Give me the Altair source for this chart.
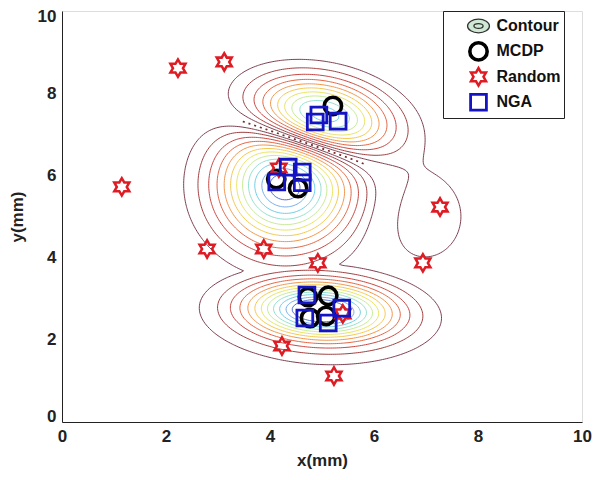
import numpy as np
import pandas as pd
import altair as alt

# ---------------- marker data (mm) ----------------
mcdp_x = [5.21, 4.12, 4.54, 4.73, 5.12, 4.77, 5.08]
mcdp_y = [7.69, 5.91, 5.69, 3.04, 3.07, 2.53, 2.58]
random_x = [2.23, 3.12, 1.15, 2.79, 3.88, 4.92, 7.27, 6.94, 4.23, 5.23, 5.40, 4.17]
random_y = [8.61, 8.76, 5.72, 4.21, 4.21, 3.87, 5.23, 3.87, 1.85, 1.12, 2.63, 6.18]
nga_x = [4.94, 4.87, 5.31, 4.35, 4.62, 4.13, 4.62, 4.71, 4.67, 5.12, 5.38]
nga_y = [7.47, 7.30, 7.32, 6.20, 6.08, 5.84, 5.82, 3.09, 2.53, 2.41, 2.77]

# ---------------- field sources for the contour ----------------
src_cx = [4.96, 6.95, 4.30, 4.96, 5.00]
src_cy = [7.40, 5.00, 5.78, 2.72, 2.35]
src_sx = [0.88, 0.65, 0.85, 0.92, 1.55]
src_sy = [0.60, 0.90, 1.00, 0.46, 0.85]
src_ang = [-18, 0, 0, -4, -4]
src_amp = [1.0, 0.13, 1.0, 1.0, 0.10]
src_grp = ["pos", "pos", "neg", "add", "add"]

levels = [0.07, 0.14, 0.22, 0.30, 0.38, 0.46, 0.54, 0.62, 0.70, 0.78, 0.86, 0.93]
level_colors = ['#6e2a3c', '#962a2a', '#c2322c', '#e0542e', '#ee8a38', '#f2c23c',
                '#e6e050', '#bfe88a', '#86dcc8', '#60c8e2', '#6aa4ea', '#3f5ed0']

series = ["Contour", "MCDP", "Random", "NGA"]

# ---------------- field ----------------
xs = np.linspace(0, 10, 251)
ys = np.linspace(0, 10, 251)
X, Y = np.meshgrid(xs, ys)
parts = {"pos": np.zeros_like(X), "neg": np.zeros_like(X), "add": np.zeros_like(X)}
for cx, cy, sx, sy, ang, amp, g in zip(src_cx, src_cy, src_sx, src_sy, src_ang, src_amp, src_grp):
    t = np.deg2rad(ang)
    u = (X - cx) * np.cos(t) + (Y - cy) * np.sin(t)
    v = -(X - cx) * np.sin(t) + (Y - cy) * np.cos(t)
    parts[g] = parts[g] + amp * np.exp(-0.5 * ((u / sx) ** 2 + (v / sy) ** 2))
Z = np.maximum(np.abs(parts["pos"] - parts["neg"]), parts["add"])
Zd = parts["pos"] - parts["neg"]
Zd = np.where(parts["pos"] + parts["neg"] > 0.36, Zd, np.nan)


def contour_paths(Z, level):
    b = Z > level
    v0 = Z[:-1, :-1]; v1 = Z[:-1, 1:]; v2 = Z[1:, 1:]; v3 = Z[1:, :-1]
    case = b[:-1, :-1] * 1 + b[:-1, 1:] * 2 + b[1:, 1:] * 4 + b[1:, :-1] * 8
    valid = ~np.isnan(v0 + v1 + v2 + v3)
    cells = np.argwhere((case > 0) & (case < 15) & valid)
    table = {1: [(3, 0)], 2: [(0, 1)], 3: [(3, 1)], 4: [(1, 2)], 6: [(0, 2)], 7: [(3, 2)],
             8: [(2, 3)], 9: [(0, 2)], 11: [(1, 2)], 12: [(1, 3)], 13: [(0, 1)], 14: [(0, 3)]}
    adj = {}
    for i, j in cells:
        c = int(case[i, j])
        es = [('h', i, j), ('v', i, j + 1), ('h', i + 1, j), ('v', i, j)]
        if c in (5, 10):
            center = (v0[i, j] + v1[i, j] + v2[i, j] + v3[i, j]) / 4 > level
            if (c == 5) == center:
                pairs = [(0, 1), (2, 3)]
            else:
                pairs = [(3, 0), (1, 2)]
        else:
            pairs = table[c]
        for a, bb in pairs:
            adj.setdefault(es[a], []).append(es[bb])
            adj.setdefault(es[bb], []).append(es[a])

    def edge_pt(e):
        kind, i, j = e
        if kind == 'h':
            a, c = Z[i, j], Z[i, j + 1]
            t = (level - a) / (c - a)
            return xs[j] + t * (xs[j + 1] - xs[j]), ys[i]
        a, c = Z[i, j], Z[i + 1, j]
        t = (level - a) / (c - a)
        return xs[j], ys[i] + t * (ys[i + 1] - ys[i])

    visited = set()
    paths = []
    starts = [n for n in adj if len(adj[n]) == 1] + list(adj.keys())
    for s in starts:
        if s in visited:
            continue
        path = [s]; visited.add(s); cur = s
        while True:
            nxt = [n for n in adj[cur] if n not in visited]
            if not nxt:
                break
            cur = nxt[0]; visited.add(cur); path.append(cur)
        if len(path) > 2 and s in adj[cur]:
            path.append(s)
        paths.append([edge_pt(e) for e in path])
    return paths


rows = []
pid = 0
for lv, col in zip(levels, level_colors):
    for p in contour_paths(Z, lv):
        for k, (px, py) in enumerate(p):
            rows.append((pid, k, px, py, col))
        pid += 1
df_lines = pd.DataFrame(rows, columns=["pid", "k", "x", "y", "col"])

rows = []
for p in contour_paths(Zd, 0.0):
    for k, (px, py) in enumerate(p):
        rows.append((pid, k, px, py))
    pid += 1
df_zero = pd.DataFrame(rows, columns=["pid", "k", "x", "y"])

df_pts = pd.concat([
    pd.DataFrame({"series": "MCDP", "x": mcdp_x, "y": mcdp_y}),
    pd.DataFrame({"series": "Random", "x": random_x, "y": random_y}),
    pd.DataFrame({"series": "NGA", "x": nga_x, "y": nga_y}),
], ignore_index=True)

# ---------------- symbols ----------------
def star_ring(scale, reverse=False):
    pts = []
    for k in range(12):
        a = np.deg2rad(-90 + 30 * k)
        r = (1.0 if k % 2 == 0 else 0.577) * scale
        pts.append(f"{r*np.cos(a):.3f},{r*np.sin(a):.3f}")
    if reverse:
        pts = pts[::-1]
    return "M" + " L".join(pts) + " Z"

star_path = star_ring(1.0) + " " + star_ring(0.55, reverse=True)
ell_path = ("M -1,0 A 1,0.62 0 1 0 1,0 A 1,0.62 0 1 0 -1,0 Z "
            "M -0.42,0 A 0.42,0.22 0 1 0 0.42,0 A 0.42,0.22 0 1 0 -0.42,0 Z")

FONT = "Liberation Sans"
xscale = alt.Scale(domain=[0, 10], nice=False, zero=False)
yscale = alt.Scale(domain=[0, 10], nice=False, zero=False)
common = dict(values=[0, 2, 4, 6, 8, 10], grid=False, ticks=False,
              labelFont=FONT, labelFontSize=17, labelFontWeight="bold", labelColor="#222",
              labelPadding=6, titleFont=FONT, titleFontSize=17, titleFontWeight="bold",
              titleColor="#222", domainColor="#222")
xaxis = alt.Axis(title="x(mm)", titlePadding=8, labelFlush=False, **common)
yaxis = alt.Axis(title="y(mm)", titlePadding=11, labelFlush=True, labelFlushOffset=3, **common)

lines = alt.Chart(df_lines).mark_line(strokeWidth=0.9, clip=True).encode(
    x=alt.X("x:Q", scale=xscale, axis=xaxis),
    y=alt.Y("y:Q", scale=yscale, axis=yaxis),
    detail="pid:N",
    order="k:Q",
    stroke=alt.Stroke("col:N", scale=None),
)

zero = alt.Chart(df_zero).mark_line(strokeWidth=1.7, strokeDash=[2, 4], color="#7a2a2a", clip=True).encode(
    x=alt.X("x:Q", scale=xscale, axis=xaxis),
    y=alt.Y("y:Q", scale=yscale, axis=yaxis),
    detail="pid:N",
    order="k:Q",
)

leg = alt.Legend(title=None, orient="none", legendX=381, legendY=0, strokeColor="#222",
                 fillColor="white", padding=3.5, rowPadding=2.4, clipHeight=23,
                 labelFont=FONT, labelFontSize=16,
                 labelFontWeight="bold", labelColor="#111", symbolOffset=20, labelOffset=6,
                 labelExpr="datum.label + '\u00a0\u00a0\u00a0\u00a0\u2009'")

points = alt.Chart(df_pts).mark_point(filled=False, opacity=1, clip=True).encode(
    x=alt.X("x:Q", scale=xscale, axis=xaxis),
    y=alt.Y("y:Q", scale=yscale, axis=yaxis),
    shape=alt.Shape("series:N", scale=alt.Scale(domain=series, range=[ell_path, "circle", star_path, "square"]), legend=leg),
    color=alt.Color("series:N", scale=alt.Scale(domain=series, range=["#333333", "#000000", "rgba(0,0,0,0)", "#1414c4"]), legend=leg),
    fill=alt.Fill("series:N", scale=alt.Scale(domain=series, range=["#cfe9d4", "transparent", "#dd1c24", "transparent"]), legend=leg),
    size=alt.Size("series:N", scale=alt.Scale(type="ordinal", domain=series, range=[480, 300, 500, 250]), legend=leg),
    strokeWidth=alt.StrokeWidth("series:N", scale=alt.Scale(type="ordinal", domain=series, range=[1.3, 3.6, 0, 2.8]), legend=leg),
)

chart = alt.layer(lines, zero, points).properties(
    width=520, height=411,
    autosize=alt.AutoSizeParams(type="none"),
    padding={"left": 54, "top": 3, "right": 12, "bottom": 50},
).configure_view(stroke="#222", strokeWidth=1).configure(background="white")

chart.save("out.html", embed_options={"renderer": "svg", "actions": False})
